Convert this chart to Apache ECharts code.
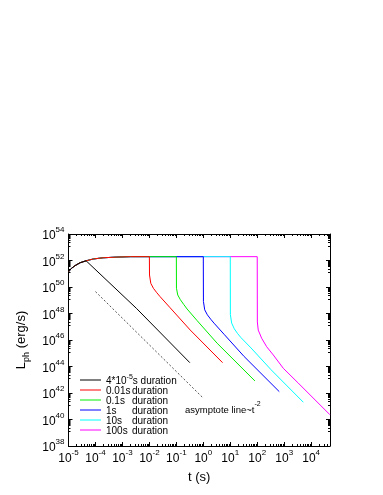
<!DOCTYPE html>
<html>
<head>
<meta charset="utf-8">
<script src="https://cdn.jsdelivr.net/npm/echarts@6/dist/echarts.min.js"></script>
<style>
html,body{margin:0;padding:0;background:#fff;}
#chart{width:383px;height:495px;}
</style>
</head>
<body>
<div id="chart"></div>
<script>
// ---- data ----
// common early rise + plateau
const riseT = [1e-5, 1.3e-5, 1.75e-5, 2.7e-5, 4.5e-5, 8.3e-5, 1.9e-4, 5.9e-4, 2e-3];
const riseL = [1.4e51, 2.6e51, 4.1e51, 6.8e51, 9.5e51, 1.3e52, 1.6e52, 1.8e52, 1.95e52];
const plateauL = 1.95e52;

const seriesNames = ['4*10^-5s duration', '0.01s duration', '0.1s duration', '1s duration', '10s duration', '100s duration'];
const durations = [4.5e-5, 0.01, 0.1, 1, 10, 100];
const colors = ['#000000', '#ff0000', '#00ee00', '#0000ff', '#00ffff', '#ff00ff'];

// decay branches after each duration
const decayT0 = [3.3e-3, 0.316];
const decayL0 = [2.45e48, 1.95e44];
const decayT1 = [0.0101, 0.01127, 0.0141, 0.01884, 0.025, 0.0589, 0.326, 5.18];
const decayL1 = [8.1e50, 1.9e50, 8.0e49, 3.7e49, 1.86e49, 2.7e48, 5.7e46, 1.95e44];
const decayT2 = [0.101, 0.1127, 0.141, 0.1884, 0.25, 0.589, 3.26, 82.2];
const decayL2 = [8.1e49, 2.5e49, 1.1e49, 4.8e48, 2.2e48, 2.9e47, 5.7e45, 8.1e42];
const decayT3 = [1.01, 1.127, 1.41, 1.884, 2.5, 5.89, 32.6, 658];
const decayL3 = [8.1e48, 1.9e48, 8.0e47, 3.7e47, 1.86e47, 2.7e46, 5.7e44, 1.26e42];
const decayT4 = [10.1, 11.27, 14.1, 18.84, 25, 58.9, 326, 5130];
const decayL4 = [8.1e47, 1.9e47, 7.0e46, 3.0e46, 1.5e46, 2.5e45, 5.7e43, 2.0e41];
const decayT5 = [101, 109, 146, 224, 394, 927, 3300, 4.95e4];
const decayL5 = [2.3e47, 5.6e46, 1.35e46, 3.1e45, 7.4e44, 7.3e43, 5.7e42, 2.3e40];

const decayT = [decayT0, decayT1, decayT2, decayT3, decayT4, decayT5];
const decayL = [decayL0, decayL1, decayL2, decayL3, decayL4, decayL5];

// asymptote t^-2
const asymT = [1e-4, 0.93];
const asymL = [4.5e49, 4.7e41];

// axis ranges
const xMin = 1e-5, xMax = 5e4;
const yMin = 1e38, yMax = 1e54;

// ---- build ----
function buildSeriesData(i) {
  const pts = [];
  const T = durations[i];
  for (let k = 0; k < riseT.length; k++) {
    if (riseT[k] <= T) pts.push([riseT[k], riseL[k]]);
  }
  if (i > 0) pts.push([T, plateauL]);
  for (let k = 0; k < decayT[i].length; k++) pts.push([decayT[i][k], decayL[i][k]]);
  return pts;
}

const FONT = 'Liberation Sans, Arial, Helvetica, sans-serif';
function powLabel(v) {
  const e = Math.log10(v);
  const r = Math.round(e);
  if (Math.abs(e - r) > 1e-6) return '';
  return '{b|10}{s|' + r + '}';
}
const powRich = {
  b: {fontSize: 12, fontFamily: FONT, color: '#000', lineHeight: 16, verticalAlign: 'bottom'},
  s: {fontSize: 8, fontFamily: FONT, color: '#000', lineHeight: 6, verticalAlign: 'top'}
};

const series = seriesNames.map((name, i) => ({
  name: name,
  type: 'line',
  xAxisIndex: 0,
  yAxisIndex: 0,
  data: buildSeriesData(i),
  symbol: 'none',
  showSymbol: false,
  smooth: false,
  clip: false,
  z: 10 - i,
  color: colors[i],
  lineStyle: {color: colors[i], width: 1},
  itemStyle: {color: colors[i]},
  animation: false
}));
series.push({
  name: 'asymptote',
  type: 'line',
  data: asymT.map((t, k) => [t, asymL[k]]),
  symbol: 'none',
  showSymbol: false,
  z: 3,
  color: '#555',
  lineStyle: {color: '#555', width: 1, type: [2, 2]},
  animation: false
});

const axisCommon = {
  axisLine: {show: true, onZero: false, lineStyle: {color: '#000', width: 1}},
  axisTick: {show: true, inside: true, length: 4, lineStyle: {color: '#000', width: 1}},
  minorTick: {show: true, splitNumber: 9, length: 2, lineStyle: {color: '#000', width: 1}},
  splitLine: {show: false},
  minorSplitLine: {show: false}
};

const option = {
  animation: false,
  backgroundColor: '#fff',
  color: colors,
  grid: {left: 68.5, right: 53, top: 234, bottom: 49, containLabel: false},
  xAxis: [
    Object.assign({}, axisCommon, {
      type: 'log', logBase: 10, min: xMin, max: xMax, interval: 1,
      position: 'bottom',
      name: 't (s)', nameLocation: 'middle', nameGap: 25,
      nameTextStyle: {fontSize: 13, fontFamily: FONT, color: '#000'},
      axisLabel: {show: true, margin: 3, formatter: powLabel, rich: powRich, showMaxLabel: false, hideOverlap: false}
    }),
    Object.assign({}, axisCommon, {
      type: 'log', logBase: 10, min: xMin, max: xMax, interval: 1,
      position: 'top', axisLabel: {show: false}
    })
  ],
  yAxis: [
    Object.assign({}, axisCommon, {
      type: 'log', logBase: 10, min: yMin, max: yMax, interval: 2,
      position: 'left',
      name: '{a|L}{p|ph}{a| (erg/s)}', nameLocation: 'middle', nameGap: 28, nameRotate: 90,
      nameTextStyle: {
        rich: {
          a: {fontSize: 13, fontFamily: FONT, color: '#000', lineHeight: 16, verticalAlign: 'top'},
          p: {fontSize: 9, fontFamily: FONT, color: '#000', lineHeight: 10, verticalAlign: 'bottom'}
        }
      },
      axisLabel: {show: true, margin: 4, formatter: powLabel, rich: powRich, hideOverlap: false}
    }),
    Object.assign({}, axisCommon, {
      type: 'log', logBase: 10, min: yMin, max: yMax, interval: 2,
      position: 'right', axisLabel: {show: false}
    })
  ],
  legend: {
    show: true,
    orient: 'vertical',
    left: 75, top: 369,
    icon: 'rect',
    itemWidth: 21, itemHeight: 1, itemGap: 0,
    data: seriesNames,
    backgroundColor: 'transparent',
    formatter: function (name) {
      const i = seriesNames.indexOf(name);
      if (i === 0) return '{t|4*10}{s|-5}{t|s duration}';
      const parts = name.split(' ');
      return '{w|' + parts[0] + '}{t|' + parts[1] + '}';
    },
    textStyle: {
      fontSize: 10, fontFamily: FONT, color: '#000', padding: [0, 0, 0, 0],
      rich: {
        t: {fontSize: 10, fontFamily: FONT, color: '#000', lineHeight: 12, verticalAlign: 'bottom'},
        w: {fontSize: 10, fontFamily: FONT, color: '#000', lineHeight: 12, width: 26, verticalAlign: 'bottom'},
        s: {fontSize: 7, fontFamily: FONT, color: '#000', lineHeight: 8, verticalAlign: 'top'}
      }
    }
  },
  graphic: [{
    type: 'text', left: 185, top: 401,
    style: {
      text: '{a|asymptote line~t}{s|-2}',
      rich: {
        a: {fontSize: 9.5, fontFamily: FONT, fill: '#000', lineHeight: 14, verticalAlign: 'bottom'},
        s: {fontSize: 7, fontFamily: FONT, fill: '#000', lineHeight: 8, verticalAlign: 'top'}
      }
    }
  }],
  series: series
};

const chart = echarts.init(document.getElementById('chart'), null, {renderer: 'canvas'});
chart.setOption(option);
</script>
</body>
</html>
